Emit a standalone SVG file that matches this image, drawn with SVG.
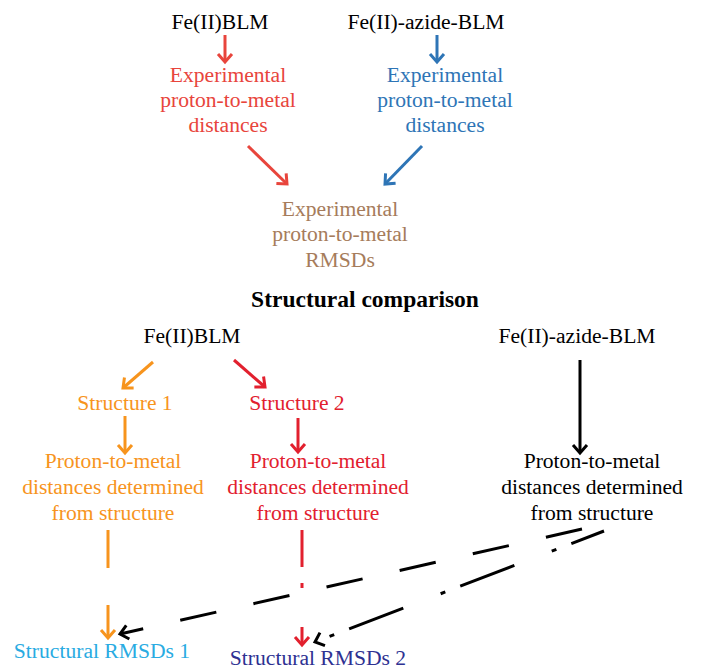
<svg xmlns="http://www.w3.org/2000/svg" width="703" height="670" viewBox="0 0 703 670">
<style>
text{font-family:"Liberation Serif","Times New Roman",serif;font-size:21.6px;text-anchor:middle}
.b{font-weight:bold;font-size:23.5px}
.k{fill:#000}.r{fill:#e8453c}.bl{fill:#2e75b6}.br{fill:#a67c5b}.o{fill:#f7941d}.r2{fill:#e2202e}.lb{fill:#29abe2}.nv{fill:#2e3192}
.ln{fill:none;stroke-width:3}
</style>
<defs>
<marker id="mr" markerUnits="userSpaceOnUse" orient="auto" overflow="visible" refX="0" refY="0"><path d="M-8,-7 L0,0 L-8,7" fill="none" stroke="#e8453c" stroke-width="3"/></marker>
<marker id="mb" markerUnits="userSpaceOnUse" orient="auto" overflow="visible" refX="0" refY="0"><path d="M-8,-7 L0,0 L-8,7" fill="none" stroke="#2e75b6" stroke-width="3"/></marker>
<marker id="mo" markerUnits="userSpaceOnUse" orient="auto" overflow="visible" refX="0" refY="0"><path d="M-8,-7 L0,0 L-8,7" fill="none" stroke="#f7941d" stroke-width="3"/></marker>
<marker id="mr2" markerUnits="userSpaceOnUse" orient="auto" overflow="visible" refX="0" refY="0"><path d="M-8,-7 L0,0 L-8,7" fill="none" stroke="#e2202e" stroke-width="3"/></marker>
<marker id="mk" markerUnits="userSpaceOnUse" orient="auto" overflow="visible" refX="0" refY="0"><path d="M-8,-7 L0,0 L-8,7" fill="none" stroke="#000" stroke-width="3"/></marker>
</defs>
<rect width="703" height="670" fill="#fff"/>
<g id="top-fe2blm"><text class="k" x="220" y="29">Fe(II)BLM</text></g>
<g id="top-azide"><text class="k" x="426" y="29">Fe(II)-azide-BLM</text></g>
<g id="exp-red"><text class="r" x="228" y="82">Experimental</text><text class="r" x="228" y="107">proton-to-metal</text><text class="r" x="228" y="132">distances</text></g>
<g id="exp-blue"><text class="bl" x="445" y="82">Experimental</text><text class="bl" x="445" y="107">proton-to-metal</text><text class="bl" x="445" y="132">distances</text></g>
<g id="exp-rmsd"><text class="br" x="340" y="216">Experimental</text><text class="br" x="340" y="241">proton-to-metal</text><text class="br" x="340" y="267">RMSDs</text></g>
<g id="title"><text class="b k" x="365" y="307">Structural comparison</text></g>
<g id="fe2blm"><text class="k" x="192" y="343">Fe(II)BLM</text></g>
<g id="azide"><text class="k" x="577" y="343">Fe(II)-azide-BLM</text></g>
<g id="s1"><text class="o" x="125" y="410">Structure 1</text></g>
<g id="s2"><text class="r2" x="297" y="410">Structure 2</text></g>
<g id="d1"><text class="o" x="113" y="468">Proton-to-metal</text><text class="o" x="113" y="494">distances determined</text><text class="o" x="113" y="520">from structure</text></g>
<g id="d2"><text class="r2" x="318" y="468">Proton-to-metal</text><text class="r2" x="318" y="494">distances determined</text><text class="r2" x="318" y="520">from structure</text></g>
<g id="d3"><text class="k" x="592" y="468">Proton-to-metal</text><text class="k" x="592" y="494">distances determined</text><text class="k" x="592" y="520">from structure</text></g>
<g id="rmsd1"><text class="lb" x="102" y="658">Structural RMSDs 1</text></g>
<g id="rmsd2"><text class="nv" x="318" y="665">Structural RMSDs 2</text></g>
<g id="connectors">
<line class="ln" x1="225" y1="35" x2="225" y2="62" stroke="#e8453c" marker-end="url(#mr)"/>
<line class="ln" x1="437" y1="35" x2="437" y2="62" stroke="#2e75b6" marker-end="url(#mb)"/>
<line class="ln" x1="248" y1="146" x2="287" y2="184" stroke="#e8453c" marker-end="url(#mr)"/>
<line class="ln" x1="422" y1="146" x2="385" y2="184" stroke="#2e75b6" marker-end="url(#mb)"/>
<line class="ln" x1="153" y1="362" x2="123" y2="388" stroke="#f7941d" marker-end="url(#mo)"/>
<line class="ln" x1="234" y1="360" x2="265" y2="387" stroke="#e2202e" marker-end="url(#mr2)"/>
<line class="ln" x1="125" y1="416" x2="125" y2="453" stroke="#f7941d" marker-end="url(#mo)"/>
<line class="ln" x1="298" y1="418" x2="298" y2="452" stroke="#e2202e" marker-end="url(#mr2)"/>
<line class="ln" x1="580" y1="360" x2="580" y2="453" stroke="#000" marker-end="url(#mk)"/>
<line class="ln" x1="108" y1="530" x2="108" y2="638" stroke="#f7941d" stroke-dasharray="38 37" marker-end="url(#mo)"/>
<line class="ln" x1="302" y1="530" x2="302" y2="645" stroke="#e2202e" stroke-dasharray="37 16 5 39" marker-end="url(#mr2)"/>
<line class="ln" x1="582" y1="529" x2="120" y2="634" stroke="#000" stroke-width="3.5" stroke-dasharray="37 38" marker-end="url(#mk)"/>
<line class="ln" x1="604" y1="531" x2="315" y2="642" stroke="#000" stroke-width="3.5" stroke-dasharray="58 16 5 40" stroke-dashoffset="23" marker-end="url(#mk)"/>
</g>
</svg>
